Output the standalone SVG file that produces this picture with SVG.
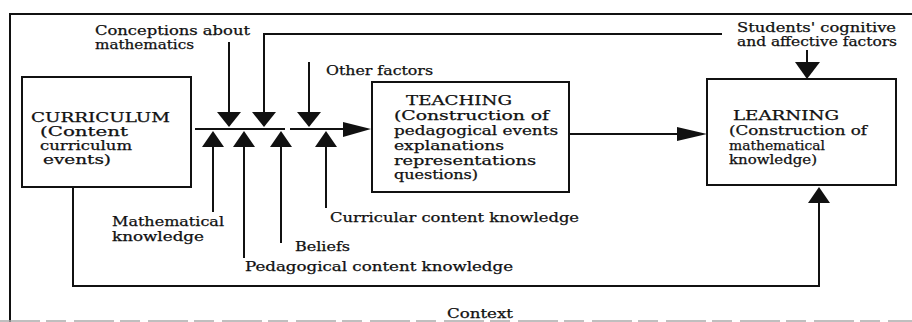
<svg xmlns="http://www.w3.org/2000/svg" width="912" height="322" viewBox="0 0 912 322">
<style>
text{font-family:"DejaVu Serif","Liberation Serif",serif;font-size:12px;fill:#111;stroke:#111;stroke-width:0.25}
.box{fill:#fff;stroke:#111;stroke-width:2}
.ln{fill:none;stroke:#111;stroke-width:2}
.ah{fill:#111;stroke:none}
</style>
<rect x="0" y="0" width="912" height="322" fill="#fff"/>
<g id="frame">
<path class="ln" d="M10,322 V14 H912" stroke-width="2.5"/>
<line x1="0" y1="321" x2="912" y2="321" stroke="#aaa" stroke-width="1.5" stroke-dasharray="40 6 20 8"/>
</g>
<g id="connectors">
<line class="ln" x1="195" y1="129" x2="285" y2="129"/>
<line class="ln" x1="290" y1="129" x2="345" y2="129"/>
<polygon class="ah" points="343,122 371,129 343,137"/>
<line class="ln" x1="229" y1="42" x2="229" y2="114"/>
<polygon class="ah" points="217,112 241,112 229,127"/>
<path class="ln" d="M722,34 H264 V114"/>
<polygon class="ah" points="252,112 276,112 264,127"/>
<line class="ln" x1="309" y1="62" x2="309" y2="114"/>
<polygon class="ah" points="297,112 321,112 309,127"/>
<line class="ln" x1="213" y1="145" x2="213" y2="212"/>
<polygon class="ah" points="202,147 224,147 213,131"/>
<line class="ln" x1="244" y1="145" x2="244" y2="258"/>
<polygon class="ah" points="233,147 255,147 244,131"/>
<line class="ln" x1="281" y1="145" x2="281" y2="243"/>
<polygon class="ah" points="270,147 292,147 281,131"/>
<line class="ln" x1="326" y1="145" x2="326" y2="208"/>
<polygon class="ah" points="315,147 337,147 326,131"/>
<line class="ln" x1="569" y1="134" x2="680" y2="134"/>
<polygon class="ah" points="677,127 707,134 677,141"/>
<line class="ln" x1="807" y1="50" x2="807" y2="64"/>
<polygon class="ah" points="795,62 820,62 807,79"/>
<path class="ln" d="M73,187 V286 H819 V201"/>
<polygon class="ah" points="808,203 830,203 819,187"/>
</g>
<g id="curriculum">
<rect class="box" x="22" y="77" width="169" height="110"/>
<text x="31" y="122" textLength="139" lengthAdjust="spacingAndGlyphs">CURRICULUM</text>
<text x="40" y="136" textLength="88" lengthAdjust="spacingAndGlyphs">(Content</text>
<text x="40" y="150" textLength="92" lengthAdjust="spacingAndGlyphs">curriculum</text>
<text x="43" y="164" textLength="68" lengthAdjust="spacingAndGlyphs">events)</text>
</g>
<g id="teaching">
<rect class="box" x="372" y="82" width="197" height="110"/>
<text x="406" y="105" textLength="106" lengthAdjust="spacingAndGlyphs">TEACHING</text>
<text x="394" y="120" textLength="155" lengthAdjust="spacingAndGlyphs">(Construction of</text>
<text x="394" y="135" textLength="164" lengthAdjust="spacingAndGlyphs">pedagogical events</text>
<text x="394" y="150" textLength="110" lengthAdjust="spacingAndGlyphs">explanations</text>
<text x="394" y="165" textLength="142" lengthAdjust="spacingAndGlyphs">representations</text>
<text x="394" y="179" textLength="84" lengthAdjust="spacingAndGlyphs">questions)</text>
</g>
<g id="learning">
<rect class="box" x="707" y="79" width="189" height="106"/>
<text x="733" y="120" textLength="106" lengthAdjust="spacingAndGlyphs">LEARNING</text>
<text x="729" y="135" textLength="138" lengthAdjust="spacingAndGlyphs">(Construction of</text>
<text x="729" y="150" textLength="96" lengthAdjust="spacingAndGlyphs">mathematical</text>
<text x="729" y="164" textLength="88" lengthAdjust="spacingAndGlyphs">knowledge)</text>
</g>
<g id="conceptions">
<text x="95" y="35" textLength="155" lengthAdjust="spacingAndGlyphs">Conceptions about</text>
<text x="95" y="49" textLength="99" lengthAdjust="spacingAndGlyphs">mathematics</text>
</g>
<g id="other-factors">
<text x="326" y="75" textLength="107" lengthAdjust="spacingAndGlyphs">Other factors</text>
</g>
<g id="students-factors">
<text x="737" y="32" textLength="159" lengthAdjust="spacingAndGlyphs">Students' cognitive</text>
<text x="737" y="46" textLength="160" lengthAdjust="spacingAndGlyphs">and affective factors</text>
</g>
<g id="mathematical-knowledge">
<text x="112" y="226" textLength="112" lengthAdjust="spacingAndGlyphs">Mathematical</text>
<text x="112" y="241" textLength="92" lengthAdjust="spacingAndGlyphs">knowledge</text>
</g>
<g id="beliefs">
<text x="295" y="251" textLength="55" lengthAdjust="spacingAndGlyphs">Beliefs</text>
</g>
<g id="pedagogical-content-knowledge">
<text x="245" y="271" textLength="268" lengthAdjust="spacingAndGlyphs">Pedagogical content knowledge</text>
</g>
<g id="curricular-content-knowledge">
<text x="330" y="222" textLength="249" lengthAdjust="spacingAndGlyphs">Curricular content knowledge</text>
</g>
<g id="context">
<text x="447" y="318" textLength="66" lengthAdjust="spacingAndGlyphs">Context</text>
</g>
</svg>
